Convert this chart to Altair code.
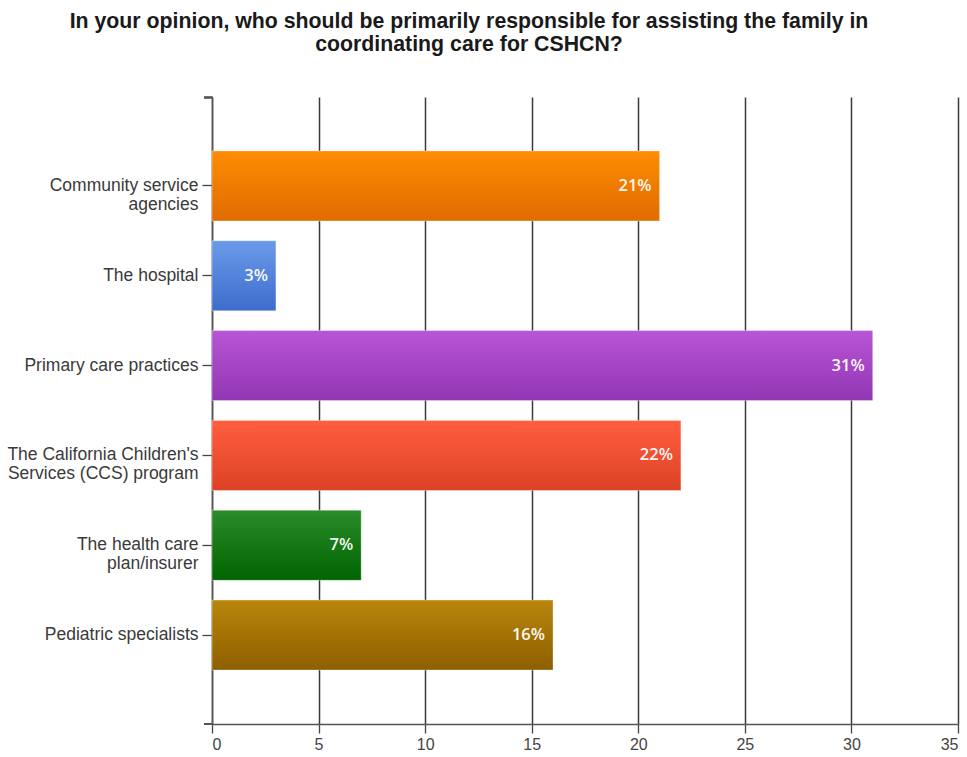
import altair as alt
import pandas as pd

categories = [
    "Community service\nagencies",
    "The hospital",
    "Primary care practices",
    "The California Children's\nServices (CCS) program",
    "The health care\nplan/insurer",
    "Pediatric specialists",
]
values = [21, 3, 31, 22, 7, 16]
labels = ["21%", "3%", "31%", "22%", "7%", "16%"]
top_colors = ["#FF8C00", "#6A9BEA", "#B855D6", "#FF5E40", "#2A8C2A", "#B8860B"]
bottom_colors = ["#DF6C00", "#3D6CCB", "#9236B2", "#DD4224", "#006400", "#8E5F00"]
x_ticks = [0, 5, 10, 15, 20, 25, 30, 35]

df = pd.DataFrame({"category": categories, "value": values, "label": labels})

W, H = 746, 627

y_enc = alt.Y(
    "category:N",
    sort=categories,
    scale=alt.Scale(domain=categories, paddingInner=0.22, paddingOuter=0.6),
    axis=alt.Axis(
        title=None,
        labelExpr="split(datum.label, '\\n')",
        labelFont="Liberation Sans",
        labelFontSize=17.5,
        labelColor="#3a3a3a",
        labelLineHeight=19,
        labelPadding=4,
        tickSize=10,
        tickColor="#444444",
        tickWidth=1.3,
        domainColor="#555555",
        domainWidth=1.5,
        grid=False,
        labelLimit=400,
    ),
)
x_enc = alt.X(
    "value:Q",
    scale=alt.Scale(domain=[0, 35], nice=False),
    axis=alt.Axis(
        title=None,
        values=x_ticks,
        format="d",
        labelFont="Liberation Sans",
        labelFontSize=16,
        labelColor="#444444",
        labelPadding=3,
        tickSize=9,
        tickColor="#444444",
        tickWidth=1.3,
        domainColor="#555555",
        domainWidth=1.5,
        grid=True,
        gridColor="#3a3a3a",
        gridWidth=1.5,
    ),
)

base = alt.Chart(df)
layers = []
for cat, tc, bc in zip(categories, top_colors, bottom_colors):
    grad = alt.Gradient(
        gradient="linear",
        stops=[alt.GradientStop(color=tc, offset=0), alt.GradientStop(color=bc, offset=1)],
        x1=0, x2=0, y1=0, y2=1,
    )
    layers.append(
        base.transform_filter(alt.datum.category == cat)
        .mark_bar(color=grad, stroke="#ffffff", strokeWidth=1, strokeOpacity=0.35)
        .encode(x=x_enc, y=y_enc)
    )

text = base.mark_text(
    align="right", baseline="middle", dx=-8, color="#ffffff",
    font="Open Sans", fontSize=16.5, fontWeight=600, opacity=0.95,
).encode(x="value:Q", y=alt.Y("category:N", sort=categories), text="label:N")

corner_top = alt.Chart(df).mark_rule(color="#555555", strokeWidth=1.5).encode(
    x=alt.value(-8), x2=alt.value(0.5), y=alt.value(0.5)
)
corner_bottom = alt.Chart(df).mark_rule(color="#555555", strokeWidth=1.5).encode(
    x=alt.value(-8), x2=alt.value(0.5), y=alt.value(H)
)

chart = alt.layer(*layers, text, corner_top, corner_bottom).properties(
    width=W,
    height=H,
    background="white",
    title=alt.TitleParams(
        text=["In your opinion, who should be primarily responsible for assisting the family in",
              "coordinating care for CSHCN?"],
        font="Liberation Sans",
        fontSize=21.3,
        fontWeight="bold",
        color="#1a1a1a",
        anchor="middle",
        frame="group",
        dx=-116,
        offset=41,
        lineHeight=23,
    ),
    autosize=alt.AutoSizeParams(type="none"),
    padding={"left": 212, "top": 97, "right": 9, "bottom": 33},
).configure_view(strokeWidth=0, stroke="transparent")

chart.save("out.html", embed_options={"renderer": "svg", "actions": False})
